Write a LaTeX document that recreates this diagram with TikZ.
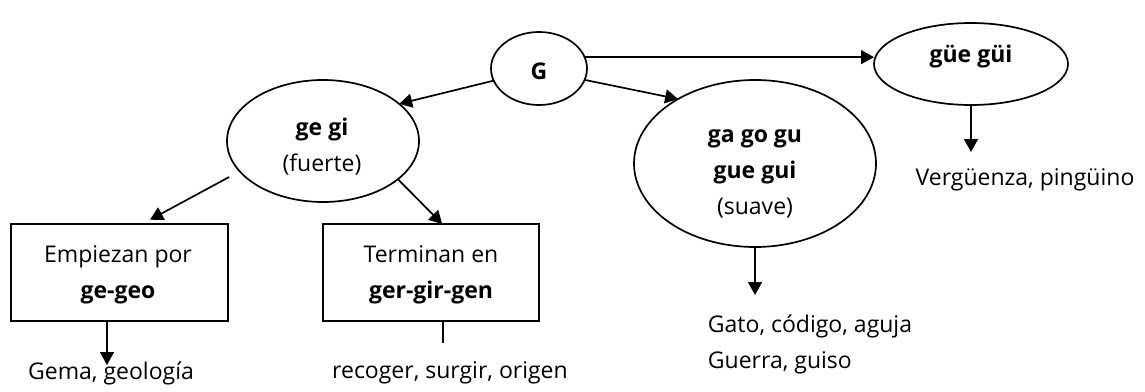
\documentclass[tikz,border=0pt]{standalone}
\usepackage{fontspec}
\setmainfont{Open Sans}
\usepackage{tikz}
\usetikzlibrary{shapes.geometric,arrows.meta}

\begin{document}
\begin{tikzpicture}[x=1pt,y=1pt,yscale=-1,xscale=1,
	bubble/.style={draw,ellipse,line width=1.7pt,inner sep=0pt,outer sep=0pt},
	box/.style={draw,rectangle,line width=1.7pt,inner sep=0pt,outer sep=0pt},
	arr/.style={line width=1.7pt,-{Triangle[length=13pt,width=14pt]}},
	txt/.style={inner sep=0.75pt,align=center,font=\fontsize{23}{36}\selectfont}]
	\useasboundingbox (0,0) rectangle (1145,391);
	
	%Shape: Ellipse [id:G]
	\node[bubble,minimum width=96,minimum height=73] (G) at (539,68.5) {};
	%Shape: Ellipse [id:gue]
	\node[bubble,minimum width=194,minimum height=82] (gue) at (971,64) {};
	%Shape: Ellipse [id:gegi]
	\node[bubble,minimum width=192,minimum height=122] (gegi) at (323,141) {};
	%Shape: Ellipse [id:gagogu]
	\node[bubble,minimum width=242,minimum height=167] (gagogu) at (755,163.5) {};
	%Shape: Rectangle [id:empiezan]
	\node[box,minimum width=217,minimum height=97] (empiezan) at (119.5,272.5) {};
	%Shape: Rectangle [id:terminan]
	\node[box,minimum width=216,minimum height=97] (terminan) at (431,272.5) {};
	
	% Text Node
	\node[txt] (Gtxt) at (539,71) {\textbf{G}};
	% Text Node
	\node[txt] (guetxt) at (971,57) {\textbf{güe güi}};
	% Text Node
	\node[txt] (gegitxt) at (322,146.5) {\textbf{ge gi}\\(fuerte)};
	% Text Node
	\node[txt] (gagogutxt) at (755,173.5) {\textbf{ga go gu}\\\textbf{gue gui}\\(suave)};
	% Text Node
	\node[txt] (empiezantxt) at (118,275) {Empiezan por\\\textbf{ge-geo}};
	% Text Node
	\node[txt] (terminantxt) at (431,275) {Terminan en\\\textbf{ger-gir-gen}};
	% Text Node
	\node[txt] (verg) at (1025,180) {Vergüenza, pingüino};
	% Text Node
	\node[txt] (gema) at (111,373) {Gema, geología};
	% Text Node
	\node[txt] (recoger) at (450,373) {recoger, surgir, origen};
	% Text Node
	\node[txt,align=left,anchor=west] (gato) at (707,344.5) {Gato, código, aguja\\Guerra, guiso};
	
	%free ends
	\coordinate (vergtip) at (971,152);
	\coordinate (gematip) at (107,365);
	\coordinate (recend) at (443,343);
	\coordinate (gatotip) at (755,295);
	
	%Straight Lines
	\draw[arr] (G.14) -- (G.14 -| gue.west);
	\draw[arr] (G.195) -- (gegi.26);
	\draw[arr] (G.346) -- (gagogu.140);
	\draw[arr] (gue.south) -- (vergtip);
	\draw[arr,shorten <=12pt,shorten >=9pt] (gegi.200) -- (empiezan.65);
	\draw[arr] (gegi.333) -- (terminan.77);
	\draw[arr] (empiezan.south -| gematip) -- (gematip);
	\draw[line width=1.7pt] (terminan.south -| recend) -- (recend);
	\draw[arr] (gagogu.south) -- (gatotip);
	
\end{tikzpicture}
\end{document}
